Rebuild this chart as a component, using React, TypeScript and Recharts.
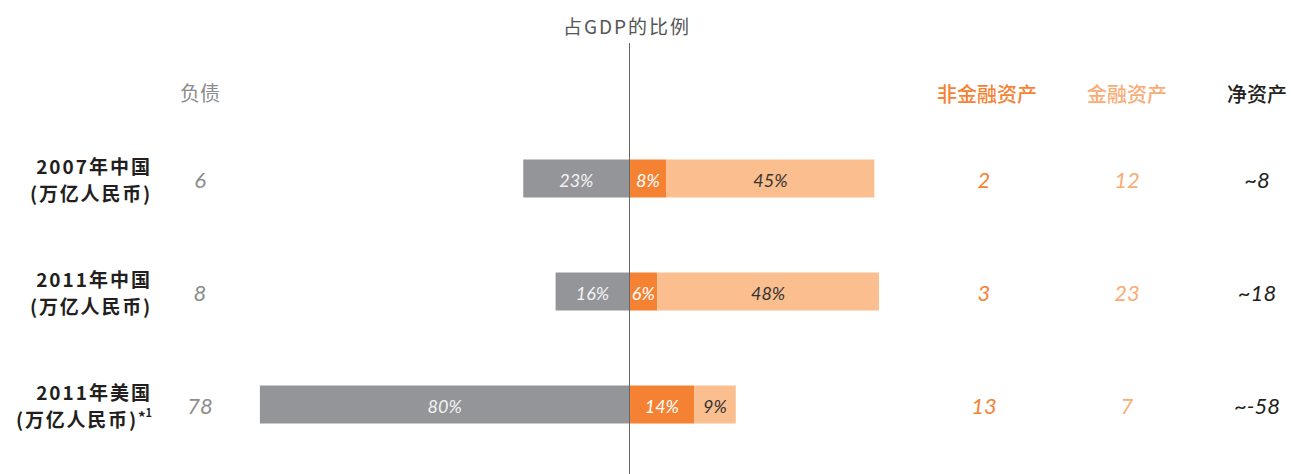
import React from 'react';
import { BarChart, Bar, XAxis, YAxis, ReferenceLine, LabelList } from 'recharts';

const categories = ['2007年中国', '2011年中国', '2011年美国'];
const unitLabels = ['(万亿人民币)', '(万亿人民币)', '(万亿人民币)'];
const footnotes = ['', '', '1'];
const liabilitiesPct = [23, 16, 80];
const nonFinancialPct = [8, 6, 14];
const financialPct = [45, 48, 9];
const liabilities = ['6', '8', '78'];
const nonFinancialAssets = ['2', '3', '13'];
const financialAssets = ['12', '23', '7'];
const netAssets = ['~8', '~18', '~-58'];

const title = '占GDP的比例';
const liabilitiesHeader = '负债';
const nonFinancialHeader = '非金融资产';
const financialHeader = '金融资产';
const netHeader = '净资产';

const GRAY = '#939598';
const ORANGE = '#F58233';
const LIGHT = '#FBBE8E';
const LIGHT_TEXT = '#F9AC75';
const DARK = '#231F20';

const CJK = "'Noto Sans CJK SC', sans-serif";
const NUM = "Lato, 'Noto Sans CJK SC', sans-serif";

const data = categories.map((name, i) => ({
  name,
  liab: -liabilitiesPct[i],
  nonfin: nonFinancialPct[i],
  fin: financialPct[i],
}));

const renderTick = (props: any) => {
  const { y, index } = props;
  return (
    <g>
      <text x={152} y={y - 13} textAnchor="end" dominantBaseline="central" fontFamily={CJK} fontWeight={700} fontSize={19} letterSpacing={2} fill={DARK}>
        {categories[index]}
      </text>
      <text x={152} y={y + 14} textAnchor="end" dominantBaseline="central" fontFamily={CJK} fontWeight={700} fontSize={19} letterSpacing={1.8} fill={DARK}>
        <tspan>{unitLabels[index]}</tspan>
        {footnotes[index] ? (
          <>
            <tspan fontSize={15} dy={-2} letterSpacing={0}>*</tspan>
            <tspan fontSize={11} dy={-4} letterSpacing={0}>{footnotes[index]}</tspan>
          </>
        ) : null}
      </text>
      <text x={200} y={y + 1} textAnchor="middle" dominantBaseline="central" fontFamily={NUM} fontStyle="italic" fontSize={22} fill="#8C8C8C">
        {liabilities[index]}
      </text>
      <text x={984} y={y + 1} textAnchor="middle" dominantBaseline="central" fontFamily={NUM} fontStyle="italic" fontSize={22} fill={ORANGE}>
        {nonFinancialAssets[index]}
      </text>
      <text x={1127} y={y + 1} textAnchor="middle" dominantBaseline="central" fontFamily={NUM} fontStyle="italic" fontSize={22} fill={LIGHT_TEXT}>
        {financialAssets[index]}
      </text>
      <text x={1257} y={y + 1} textAnchor="middle" dominantBaseline="central" fontFamily={NUM} fontStyle="italic" fontSize={22} fill={DARK}>
        {netAssets[index]}
      </text>
    </g>
  );
};

const makeLabel = (color: string) => (props: any) => {
  const { x, y, width, height, value } = props;
  const cx = x + width / 2;
  const cy = y + height / 2;
  return (
    <text x={cx} y={cy + 1} textAnchor="middle" dominantBaseline="central" fontFamily={NUM} fontStyle="italic" fontSize={18} fill={color}>
      {`${Math.abs(Number(value))}%`}
    </text>
  );
};

const header = (text: string, x: number, y: number, color: string, size: number, weight: number, spacing = 0) => (
  <div
    style={{
      position: 'absolute',
      left: x,
      top: y,
      transform: 'translate(-50%, -50%)',
      whiteSpace: 'nowrap',
      fontFamily: CJK,
      fontSize: size,
      fontWeight: weight,
      letterSpacing: spacing,
      color,
      lineHeight: 1,
    }}
  >
    {text}
  </div>
);

export default function App() {
  return (
    <div style={{ position: 'absolute', left: 0, top: 0, width: 1291, height: 474, overflow: 'hidden', background: '#fff' }}>
      <BarChart
        width={1291}
        height={474}
        layout="vertical"
        data={data}
        stackOffset="sign"
        margin={{ top: 43, right: 199.5, bottom: 0, left: 0 }}
      >
        <XAxis type="number" domain={[-100, 100]} hide />
        <YAxis
          type="category"
          dataKey="name"
          width={167.5}
          axisLine={false}
          tickLine={false}
          tick={renderTick}
          padding={{ top: 78.5, bottom: 13.5 }}
        />
        <Bar dataKey="liab" stackId="a" fill={GRAY} barSize={38} isAnimationActive={false}>
          <LabelList dataKey="liab" content={makeLabel('#F4F4F4')} />
        </Bar>
        <Bar dataKey="nonfin" stackId="a" fill={ORANGE} barSize={38} isAnimationActive={false}>
          <LabelList dataKey="nonfin" content={makeLabel('#FFFFFF')} />
        </Bar>
        <Bar dataKey="fin" stackId="a" fill={LIGHT} barSize={38} isAnimationActive={false}>
          <LabelList dataKey="fin" content={makeLabel('#333333')} />
        </Bar>
        <ReferenceLine x={0} stroke="#666" strokeWidth={1} />
      </BarChart>
      {header(title, 627, 25, '#555', 19, 400, 2)}
      {header(liabilitiesHeader, 200, 93, '#8C8C8C', 20, 400)}
      {header(nonFinancialHeader, 987, 94, ORANGE, 20, 500)}
      {header(financialHeader, 1127, 94, LIGHT_TEXT, 20, 500)}
      {header(netHeader, 1257, 94, DARK, 20, 500)}
    </div>
  );
}
